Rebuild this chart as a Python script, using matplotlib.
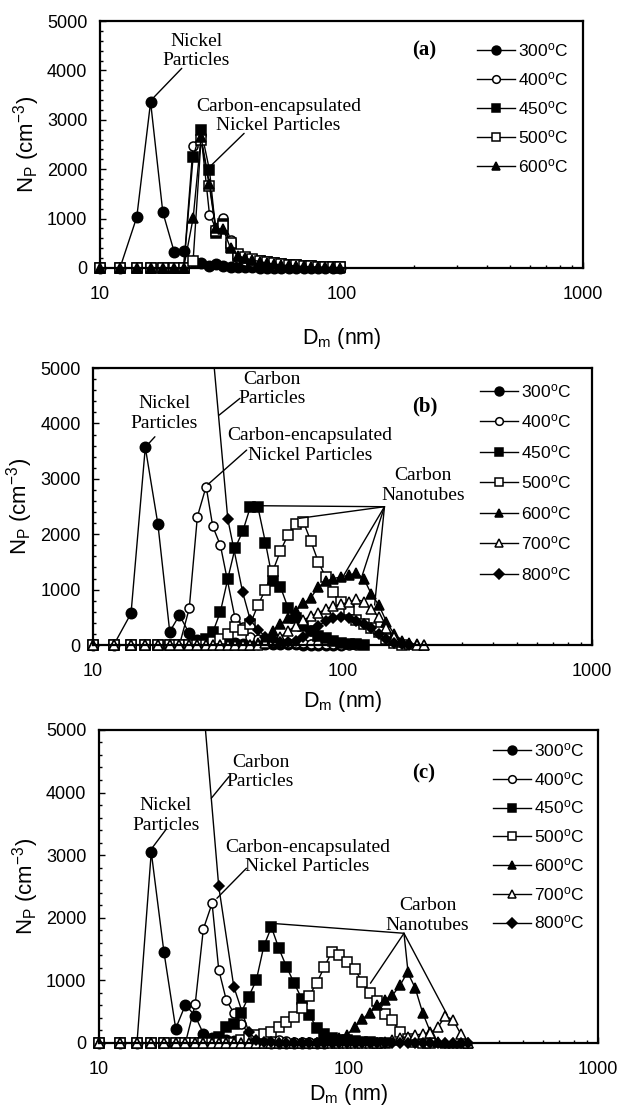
import numpy as np
import matplotlib
matplotlib.use('Agg')
import matplotlib.pyplot as plt
from matplotlib.patches import Rectangle
from matplotlib.ticker import LogLocator, MultipleLocator, NullFormatter, FuncFormatter

plt.rcParams['font.family'] = 'Liberation Sans'
plt.rcParams['mathtext.fontset'] = 'custom'
plt.rcParams['mathtext.rm'] = 'Liberation Sans'
plt.rcParams['mathtext.it'] = 'Liberation Sans:italic'

nan = np.nan

# mobility diameter channels (nm), shared by all panels
dm = [10.0, 12.1, 14.2, 16.2, 18.2, 20.3, 22.2, 24.3, 26.2, 28.4,
      30.2, 32.4, 34.7, 37.1, 39.8, 42.7, 45.8, 49.1, 52.6, 56.4,
      60.5, 64.9, 69.6, 74.6, 80.0, 85.8, 92.0, 98.7, 105.8, 113.5,
      121.7, 130.5, 139.9, 150.0, 160.9, 172.5, 185.0, 198.4, 212.7, 228.1,
      244.6, 262.3, 281.3, 301.6]

# panel (a)
temps_a = ['300', '400', '450', '500', '600']
a_300 = [0, 0, 1030, 3360, 1130, 320, 350, 150, 100, 40, 80, 30, 20, 15, 10, 10, 5, 5, 0, 0, 0, 0, 0, 0, 0, 0, 0, 0]
a_400 = [0, 0, 0, 0, 0, 0, 0, 2480, 2700, 1080, 800, 1020, 560, 200, 150, 120, 100, 80, 60, 50, 40, 30, 25, 20, 15, 10, 10, 5]
a_450 = [0, 0, 0, 0, 0, 0, 0, 2250, 2800, 1980, 710, 900, 430, 250, 200, 170, 140, 120, 100, 80, 60, 50, 40, 30, 25, 20, 15, 10]
a_500 = [0, 0, 0, 0, 0, 0, 0, 150, 2600, 1650, 750, 850, 500, 280, 220, 180, 150, 120, 100, 80, 60, 50, 40, 30, 25, 20, 15, 10]
a_600 = [0, 0, 0, 0, 0, 0, 0, 1010, 2650, 1700, 800, 780, 400, 250, 200, 160, 130, 100, 80, 60, 50, 40, 30, 25, 20, 15, 10, 5]

# panel (b)
temps_bc = ['300', '400', '450', '500', '600', '700', '800']
b_300 = [0, 0, 570, 3570, 2180, 240, 540, 210, 90, 60, 50, 40, 30, 30, 20, 20, 20, 15, 15, 10, 10, 10, 5, 5, 5, 5, 0, 0]
b_400 = [0, 0, 0, 0, 0, 0, 0, 660, 2320, 2860, 2140, 1800, nan, 480, 330, 150, 100, 80, 60, 50, 40, 30, 30, 20, 20, 10, 10, 5, 5, 0]
b_450 = [0, 0, 0, 0, 0, 0, 0, 0, 0, 100, 230, 600, 1200, 1750, 2050, 2490, 2490, 1850, 1150, 1050, 670, 480, 350, 250, 170, 120, 70, 40, 20, 10, 0]
b_500 = [0, 0, 0, 0, 0, 0, 0, 0, 0, 0, 50, 100, 200, 320, 280, 380, 720, 1000, 1340, 1700,
         1990, 2180, 2230, 1880, 1500, 1220, 960, 780, 630, 450, 380, 300, 230, 100, 30, 0]
b_600 = [0, 0, 0, 0, 0, 0, 0, 0, 0, 0, 0, 0, 0, 0, 0, 0, 30, 100, 250, 380,
         480, 620, 750, 850, 1050, 1150, 1200, 1230, 1260, 1300, 1200, 920, 720, 420, 200, 80, 30, 10, 0]
b_700 = [0, 0, 0, 0, 0, 0, 0, 0, 0, 0, 0, 0, 0, 0, 0, 0, 0, 30, 80, 150,
         250, 350, 450, 520, 580, 650, 700, 740, 770, 830, 780, 650, 500, 300, 150, 60, 20, 0, 0]
b_800 = [nan, nan, nan, nan, nan, nan, nan, nan, nan, nan, 5300, nan, 2270, nan, 950, 450, 280, 150, 100, 60,
         50, 80, 150, 250, 350, 430, 480, 500, 480, 430, 380, 300, 200, 100, 40, 10, 0]

# panel (c)
c_300 = [0, 0, 0, 3050, 1460, 230, 610, 430, 150, 80, 60, 40, 30, 20, 20, 10, 10, 5, 5, 0, 0, 0, 0, 0, 0]
c_400 = [0, 0, 0, 0, 0, 0, 0, 620, 1820, 2230, 1170, 680, 480, 310, 150, 100, 80, 60, 40, 30, 20, 10, 10, 5, 0, 0, 0, 0]
c_450 = [0, 0, 0, 0, 0, 0, 0, 0, 0, 50, 100, 250, 300, 480, 740, 1000, 1550, 1850, 1510, 1220,
         960, 710, 450, 240, 150, 80, 50, 40, 30, 20, 10, 0, 0]
c_500 = [0, 0, 0, 0, 0, 0, 0, 0, 0, 0, 0, 0, 0, 50, 80, 120, 150, 180, 250, 330,
         420, 560, 750, 960, 1210, 1460, 1400, 1300, 1180, 980, 800, 670, 470, 360, 180, 60, 20, 0, 0]
c_600 = [0, 0, 0, 0, 0, 0, 0, 0, 0, 0, 0, 0, 0, 0, 0, 0, 0, 0, 0, 0,
         0, 0, 0, 0, 20, 40, 80, 130, 250, 380, 480, 600, 690, 760, 920, 1130, 880, 480, 180, 20, 0, 0, 0, 0]
c_700 = [0, 0, 0, 0, 0, 0, 0, 0, 0, 0, 0, 0, 0, 0, 0, 0, 0, 0, 0, 0,
         0, 0, 0, 0, 0, 0, 0, 0, 0, 0, 0, 0, 20, 50, 80, 100, 120, 150, 160, 250, 430, 370, 150, 0]
c_800 = [nan, nan, nan, nan, nan, nan, nan, nan, 5400, nan, 2500, nan, 900, nan, 180, 50, 20, 10, 0, 0,
         0, 0, 0, 0, 0, 0, 0, 0, 0, 0, 0, 0, 0, 0, 0, 0, 0, 0, 0, 0, 0, 0, 0, 0]

styles = {
    '300': dict(marker='o', mfc='k', ms=7.5),
    '400': dict(marker='o', mfc='white', ms=6.5),
    '450': dict(marker='s', mfc='k', ms=7),
    '500': dict(marker='s', mfc='white', ms=7),
    '600': dict(marker='^', mfc='k', ms=7.5),
    '700': dict(marker='^', mfc='white', ms=7.5),
    '800': dict(marker='D', mfc='k', ms=5.5),
}

serif = 'Liberation Serif'


def plot_panel(ax, temps, series):
    clip = Rectangle((-0.05, -0.1), 1.1, 1.1, transform=ax.transAxes)
    for t, y in zip(temps, series):
        x = np.array(dm[:len(y)])
        y = np.array(y, dtype=float)
        m = ~np.isnan(y)
        line, = ax.plot(x[m], y[m], color='k', lw=1.0, mec='k', mew=1.1,
                        label=t + r'$^{\mathrm{o}}$C', **styles[t])
        line.set_clip_path(clip)


def setup(ax, leg_xy, leg_space, xlab_y):
    ax.set_xscale('log')
    ax.set_xlim(10, 1000)
    ax.set_ylim(0, 5000)
    ax.yaxis.set_major_locator(MultipleLocator(1000))
    ax.yaxis.set_minor_locator(MultipleLocator(200))
    ax.xaxis.set_major_locator(LogLocator(base=10, numticks=5))
    ax.xaxis.set_minor_locator(LogLocator(base=10, subs=np.arange(2, 10), numticks=20))
    ax.xaxis.set_minor_formatter(NullFormatter())
    ax.xaxis.set_major_formatter(FuncFormatter(lambda v, p: '%g' % v))
    for s in ax.spines.values():
        s.set_linewidth(1.6)
    ax.tick_params(which='both', direction='in', top=False, right=False, labelsize=13, width=1)
    ax.tick_params(which='major', length=4)
    ax.tick_params(which='minor', length=2.5)
    ax.tick_params(axis='x', pad=13)
    ax.tick_params(axis='y', pad=9)
    ax.set_xlabel(r'D$_{\mathrm{m}}$ (nm)', fontsize=15.5)
    ax.set_ylabel(r'N$_{\mathrm{P}}$ (cm$^{-3}$)', fontsize=16)
    ax.xaxis.set_label_coords(0.5, xlab_y)
    ax.legend(loc='upper left', bbox_to_anchor=leg_xy, frameon=False, fontsize=12.5,
              handlelength=2.2, handletextpad=0.15, labelspacing=leg_space,
              borderpad=0, borderaxespad=0, markerscale=0.85)


def leader(ax, start, end):
    ax.annotate('', xy=end, xytext=start,
                arrowprops=dict(arrowstyle='-', lw=1.0, color='k', shrinkA=0, shrinkB=0))


def label(ax, x, y, s, size=14, **kw):
    ax.text(x, y, s, fontfamily=serif, fontsize=size, ha='center', va='center', **kw)


fig = plt.figure(figsize=(6.21, 11.1), dpi=100)

# (a)
ax = fig.add_axes([0.161, 0.7586, 0.778, 0.2224])
plot_panel(ax, temps_a, [a_300, a_400, a_450, a_500, a_600])
setup(ax, (0.78, 0.92), 0.64, -0.235)
label(ax, 219, 4413, '(a)', size=15, fontweight='bold')
label(ax, 25.1, 4397, 'Nickel\nParticles')
leader(ax, (21.8, 4043), (16.4, 3415))
label(ax, 54.7, 3081, 'Carbon-encapsulated\nNickel Particles')
leader(ax, (39.5, 2726), (28.5, 2051))

# (b)
ax = fig.add_axes([0.1498, 0.4189, 0.8035, 0.2495])
plot_panel(ax, temps_bc, [b_300, b_400, b_450, b_500, b_600, b_700, b_800])
setup(ax, (0.775, 0.95), 0.72, -0.16)
label(ax, 213.8, 4302, '(b)', size=15, fontweight='bold')
label(ax, 19.3, 4180, 'Nickel\nParticles')
leader(ax, (17.7, 3760), (16.2, 3570))
label(ax, 52.0, 4621, 'Carbon\nParticles')
leader(ax, (38.8, 4453), (32.0, 4150))
label(ax, 74.1, 3601, 'Carbon-encapsulated\nNickel Particles')
leader(ax, (41.3, 3520), (28.9, 2900))
label(ax, 210.9, 2879, 'Carbon\nNanotubes')
for tgt in [(45.7, 2515), (67.1, 2287), (100.4, 1233), (118.3, 1173), (134.5, 722)]:
    leader(ax, (147.3, 2497), tgt)

# (c)
ax = fig.add_axes([0.1594, 0.0604, 0.8035, 0.282])
plot_panel(ax, temps_bc, [c_300, c_400, c_450, c_500, c_600, c_700, c_800])
setup(ax, (0.79, 0.964), 0.62, -0.125)
label(ax, 200, 4308, '(c)', size=15, fontweight='bold')
label(ax, 18.5, 3629, 'Nickel\nParticles')
leader(ax, (18.5, 3403), (16.3, 3110))
label(ax, 44.4, 4326, 'Carbon\nParticles')
leader(ax, (33.2, 4254), (28.2, 3909))
label(ax, 68.5, 2971, 'Carbon-encapsulated\nNickel Particles')
leader(ax, (39.0, 2791), (29.7, 2311))
label(ax, 207.5, 2032, 'Carbon\nNanotubes')
for tgt in [(48.6, 1912), (122.5, 954), (173.2, 1139), (248.9, 447)]:
    leader(ax, (166.9, 1752), tgt)

fig.savefig('out.png', dpi=100)
